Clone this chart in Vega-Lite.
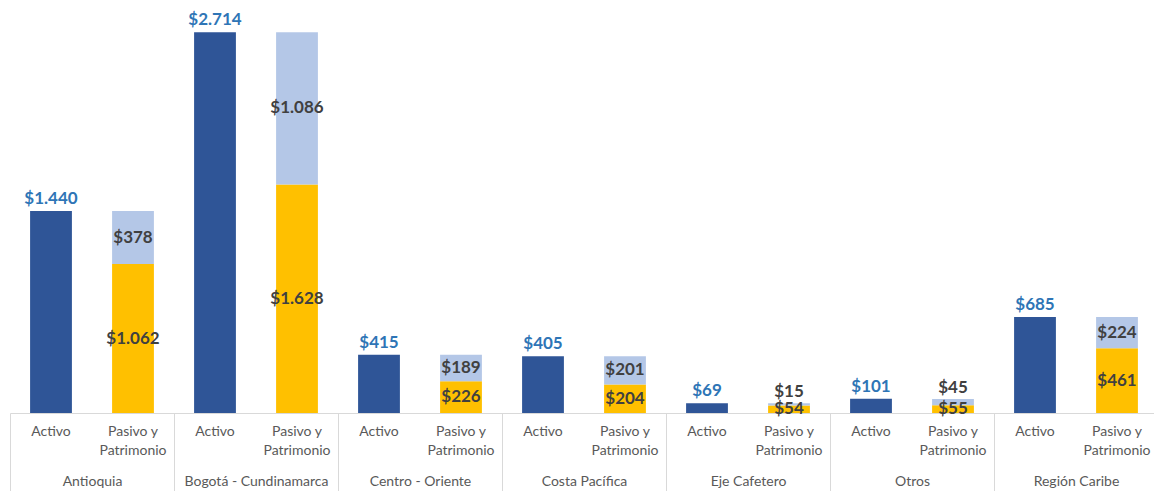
{
  "$schema": "https://vega.github.io/schema/vega-lite/v6.json",
  "width": 1148,
  "height": 413,
  "padding": {"left": 9, "top": 0, "right": 0, "bottom": 0},
  "config": {"font": "Lato", "view": {"stroke": null}},
  "data": {
    "values": [
      {"region": "Antioquia", "cat": "Activo", "part": "Activo", "value": 1440},
      {"region": "Antioquia", "cat": "Pasivo y Patrimonio", "part": "Pasivo", "value": 1062},
      {"region": "Antioquia", "cat": "Pasivo y Patrimonio", "part": "Patrimonio", "value": 378},
      {"region": "Bogotá - Cundinamarca", "cat": "Activo", "part": "Activo", "value": 2714},
      {"region": "Bogotá - Cundinamarca", "cat": "Pasivo y Patrimonio", "part": "Pasivo", "value": 1628},
      {"region": "Bogotá - Cundinamarca", "cat": "Pasivo y Patrimonio", "part": "Patrimonio", "value": 1086},
      {"region": "Centro - Oriente", "cat": "Activo", "part": "Activo", "value": 415},
      {"region": "Centro - Oriente", "cat": "Pasivo y Patrimonio", "part": "Pasivo", "value": 226},
      {"region": "Centro - Oriente", "cat": "Pasivo y Patrimonio", "part": "Patrimonio", "value": 189},
      {"region": "Costa Pacífica", "cat": "Activo", "part": "Activo", "value": 405},
      {"region": "Costa Pacífica", "cat": "Pasivo y Patrimonio", "part": "Pasivo", "value": 204},
      {"region": "Costa Pacífica", "cat": "Pasivo y Patrimonio", "part": "Patrimonio", "value": 201},
      {"region": "Eje Cafetero", "cat": "Activo", "part": "Activo", "value": 69},
      {"region": "Eje Cafetero", "cat": "Pasivo y Patrimonio", "part": "Pasivo", "value": 54},
      {"region": "Eje Cafetero", "cat": "Pasivo y Patrimonio", "part": "Patrimonio", "value": 15},
      {"region": "Otros", "cat": "Activo", "part": "Activo", "value": 101},
      {"region": "Otros", "cat": "Pasivo y Patrimonio", "part": "Pasivo", "value": 55},
      {"region": "Otros", "cat": "Pasivo y Patrimonio", "part": "Patrimonio", "value": 45},
      {"region": "Región Caribe", "cat": "Activo", "part": "Activo", "value": 685},
      {"region": "Región Caribe", "cat": "Pasivo y Patrimonio", "part": "Pasivo", "value": 461},
      {"region": "Región Caribe", "cat": "Pasivo y Patrimonio", "part": "Patrimonio", "value": 224}
    ]
  },
  "transform": [
    {"calculate": "datum.region + '|' + datum.cat", "as": "key"},
    {"calculate": "datum.part == 'Pasivo' ? 1 : (datum.part == 'Patrimonio' ? 2 : 0)", "as": "ord"},
    {"stack": "value", "groupby": ["key"], "sort": [{"field": "ord", "order": "ascending"}], "as": ["y0", "y1"]},
    {"calculate": "(datum.y0 + datum.y1) / 2", "as": "mid"},
    {"calculate": "'$' + replace(format(datum.value, ','), ',', '.')", "as": "label"}
  ],
  "resolve": {"scale": {"x": "independent"}, "axis": {"x": "independent"}},
  "layer": [
    {
      "encoding": {
        "x": {
          "field": "key",
          "type": "nominal",
          "scale": {"type": "band", "paddingInner": 0.49, "paddingOuter": 0.245},
          "axis": {
            "title": null,
            "labelExpr": "indexof(datum.value, 'Activo') >= 0 ? 'Activo' : ['Pasivo y', 'Patrimonio']",
            "ticks": false,
            "domainColor": "#D9D9D9",
            "domainWidth": 1,
            "labelColor": "#595959",
            "labelFontSize": 14,
            "labelPadding": 11,
            "labelLineHeight": 19,
            "labelAngle": 0,
            "labelBaseline": "top",
            "labelOverlap": false,
            "labelBound": false
          }
        },
        "y": {"field": "y1", "type": "quantitative", "stack": null, "scale": {"domain": [0, 2944], "nice": false, "zero": true}, "axis": null}
      },
      "layer": [
        {
          "mark": {"type": "bar"},
          "encoding": {
            "y2": {"field": "y0"},
            "color": {
              "field": "part",
              "type": "nominal",
              "scale": {"domain": ["Activo", "Pasivo", "Patrimonio"], "range": ["#2F5597", "#FFC000", "#B4C7E7"]},
              "legend": null
            }
          }
        },
        {
          "transform": [{"filter": "datum.part == 'Activo'"}],
          "mark": {"type": "text", "baseline": "alphabetic", "dy": -7, "fontSize": 17, "fontWeight": "bold", "color": "#2E75B6"},
          "encoding": {"text": {"field": "label"}}
        },
        {
          "transform": [{"filter": "datum.part != 'Activo' && (datum.value >= 50 || datum.part == 'Pasivo')"}],
          "mark": {"type": "text", "baseline": "middle", "fontSize": 17, "fontWeight": "bold", "color": "#404040"},
          "encoding": {"y": {"field": "mid", "type": "quantitative", "stack": null}, "text": {"field": "label"}}
        },
        {
          "transform": [{"filter": "datum.part == 'Patrimonio' && datum.value < 50"}],
          "mark": {"type": "text", "baseline": "alphabetic", "dy": -6, "fontSize": 17, "fontWeight": "bold", "color": "#404040"},
          "encoding": {"text": {"field": "label"}}
        }
      ]
    },
    {
      "transform": [{"filter": "datum.part == 'Activo'"}],
      "mark": {"type": "bar", "opacity": 0},
      "encoding": {
        "x": {
          "field": "region",
          "type": "nominal",
          "scale": {"type": "band", "paddingInner": 0, "paddingOuter": 0},
          "axis": {
            "title": null,
            "orient": "bottom",
            "domain": false,
            "ticks": true,
            "tickBand": "extent",
            "tickColor": "#D9D9D9",
            "tickSize": 78,
            "labelPadding": -17,
            "labelFontSize": 14,
            "labelColor": "#595959",
            "labelAngle": 0,
            "labelBaseline": "top",
            "labelOverlap": false,
            "labelBound": false
          }
        },
        "y": {"field": "y1", "type": "quantitative", "stack": null}
      }
    }
  ]
}
